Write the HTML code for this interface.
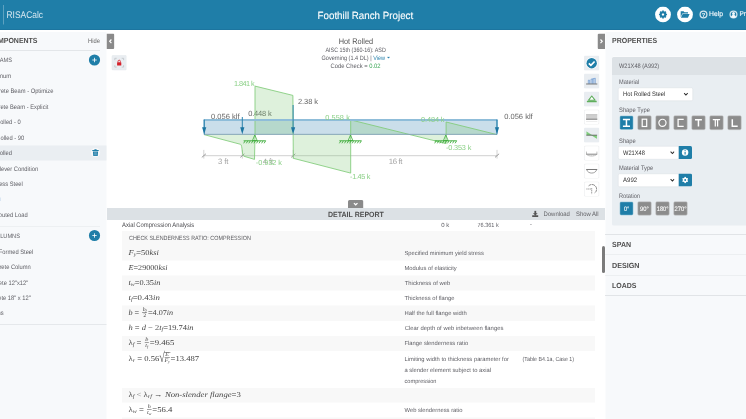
<!DOCTYPE html>
<html lang="en"><head><meta charset="utf-8"><title>RISACalc - Foothill Ranch Project</title>
<style>
html,body{margin:0;padding:0;background:#fff;overflow:hidden;width:746px;height:419px}
#app{text-rendering:geometricPrecision;position:absolute;left:0;top:0;width:1492px;height:838px;overflow:hidden;transform:scale(0.5);transform-origin:0 0;font-family:"Liberation Sans",sans-serif;background:#fff}
#app div,#app h1,#app h2,#app h3,#app span{box-sizing:border-box}
</style></head><body><div id="app">
<div class="sidebar-bg" style="position:absolute;left:0px;top:64px;width:212.6px;height:780px;background:#f7f9fb;"></div>
<div class="right-bg" style="position:absolute;left:1210.8px;top:64px;width:282px;height:780px;background:#f7f9fb;"></div>
<header style="position:absolute;left:0;top:0;width:1492px;height:59.8px;background:#1f7ea8;border-bottom:1.4px solid #1a6d96;box-sizing:border-box"><div style="position:absolute;left:6.4px;top:10px;width:1.2px;height:39px;background:rgba(255,255,255,.28);"></div><div style="position:absolute;top:18px;font-size:19.4px;line-height:22px;white-space:nowrap;color:#d6e7f0;left:13.2px;transform-origin:0 0;transform:scaleX(0.87);">RISACalc</div><h1 style="position:absolute;top:19px;font-size:20.8px;line-height:23px;white-space:nowrap;color:#fff;left:628.86px;transform-origin:50% 0;transform:scaleX(0.94);margin:0;font-weight:normal;-webkit-text-stroke:0.2px #fff;">Foothill Ranch Project</h1><svg style="position:absolute;left:1310px;top:13.2px;width:32px;height:32px" viewBox="0 0 16 16">
<circle cx="8" cy="8" r="7.9" fill="#fff"/>
<g transform="translate(8 8) scale(1.15)" fill="#1f7ea8">
<circle r="1.9" fill="none" stroke="#1f7ea8" stroke-width="1.7"/>
<g>
<rect x="-0.7" y="-3.5" width="1.4" height="1.4"/><rect x="-0.7" y="2.1" width="1.4" height="1.4"/>
<rect x="-3.5" y="-0.7" width="1.4" height="1.4"/><rect x="2.1" y="-0.7" width="1.4" height="1.4"/>
</g>
<g transform="rotate(45)">
<rect x="-0.7" y="-3.5" width="1.4" height="1.4"/><rect x="-0.7" y="2.1" width="1.4" height="1.4"/>
<rect x="-3.5" y="-0.7" width="1.4" height="1.4"/><rect x="2.1" y="-0.7" width="1.4" height="1.4"/>
</g>
</g></svg><svg style="position:absolute;left:1354.4px;top:13.2px;width:32px;height:32px" viewBox="0 0 16 16">
<circle cx="8" cy="8" r="7.9" fill="#fff"/>
<path d="M3.7 4.8h2.9l.9.9h3.5v1.200H5.300L3.700 10.700z" fill="#1f7ea8"/>
<path d="M5.700 7.500h6.900l-1.700 3.700H3.900z" fill="#1f7ea8"/>
</svg><svg style="position:absolute;left:1397.8px;top:20px;width:18px;height:18px" viewBox="0 0 9 9">
<circle cx="4.500" cy="4.500" r="3.400" fill="none" stroke="rgba(255,255,255,.8)" stroke-width="1.250"/>
<text x="4.500" y="6.500" font-size="5.800" font-weight="bold" text-anchor="middle" fill="#fff" font-family="Liberation Sans, sans-serif">?</text>
</svg><div style="position:absolute;top:20px;font-size:13.8px;line-height:15px;white-space:nowrap;color:#f2f8fb;left:1418.4px;transform-origin:0 0;transform:scaleX(0.979);-webkit-text-stroke:0.3px #f2f8fb;">Help</div><svg style="position:absolute;left:1458px;top:20px;width:18px;height:18px" viewBox="0 0 9 9">
<circle cx="4.500" cy="4.500" r="3.400" fill="none" stroke="rgba(255,255,255,.8)" stroke-width="1.250"/>
<circle cx="4.500" cy="3.500" r="1.500" fill="#f4f9fb"/>
<path d="M2 7.100c.2-1.700 1.200-2.200 2.500-2.200s2.300.5 2.500 2.200c-.7.700-1.500 1-2.500 1s-1.800-.3-2.500-1z" fill="#f4f9fb"/>
</svg><div style="position:absolute;top:20px;font-size:13.8px;line-height:15px;white-space:nowrap;color:#f2f8fb;left:1478.6px;transform-origin:0 0;transform:scaleX(0.93);-webkit-text-stroke:0.3px #f2f8fb;">Profile</div></header>
<nav><h2 style="position:absolute;top:73px;font-size:14.8px;line-height:16px;white-space:nowrap;color:#4f4f4f;right:1416.6px;transform-origin:100% 0;transform:scaleX(0.945);font-weight:bold;margin:0;">COMPONENTS</h2><div style="position:absolute;top:74px;font-size:13px;line-height:15px;white-space:nowrap;color:#666;left:175.6px;transform-origin:0 0;transform:scaleX(0.89);">Hide</div><div style="position:absolute;left:0px;top:100px;width:199.6px;height:1.6px;background:#e3e6e9;"></div><div style="position:absolute;top:113px;font-size:12.6px;line-height:14px;white-space:nowrap;color:#5e5e64;right:1468.4px;transform-origin:100% 0;transform:scaleX(0.9);">BEAMS</div><svg style="position:absolute;left:176.6px;top:107.8px;width:24px;height:24px" viewBox="0 0 12 12">
<circle cx="6" cy="6" r="5.6" fill="#1f7ea8"/>
<path d="M6 3.8v4.4M3.8 6h4.4" stroke="#fff" stroke-width="0.8" fill="none"/></svg><div style="position:absolute;left:0px;top:290.6px;width:212.6px;height:30.6px;background:#eaeef2;"></div><div style="position:absolute;top:144px;font-size:12.8px;line-height:15px;white-space:nowrap;color:#5e5e64;right:1470.4px;transform-origin:100% 0;transform:scaleX(0.9);">Aluminum</div><div style="position:absolute;top:174px;font-size:12.8px;line-height:15px;white-space:nowrap;color:#5e5e64;right:1385.2px;transform-origin:100% 0;transform:scaleX(0.9);">Concrete Beam - Optimize</div><div style="position:absolute;top:206px;font-size:12.8px;line-height:15px;white-space:nowrap;color:#5e5e64;right:1395.2px;transform-origin:100% 0;transform:scaleX(0.9);">Concrete Beam - Explicit</div><div style="position:absolute;top:236px;font-size:12.8px;line-height:15px;white-space:nowrap;color:#5e5e64;right:1450.8px;transform-origin:100% 0;transform:scaleX(0.9);">Hot Rolled - 0</div><div style="position:absolute;top:268px;font-size:12.8px;line-height:15px;white-space:nowrap;color:#5e5e64;right:1444px;transform-origin:100% 0;transform:scaleX(0.9);">Hot Rolled - 90</div><div style="position:absolute;top:298px;font-size:12.8px;line-height:15px;white-space:nowrap;color:#5e5e64;right:1468px;transform-origin:100% 0;transform:scaleX(0.9);">Hot Rolled</div><div style="position:absolute;top:330px;font-size:12.8px;line-height:15px;white-space:nowrap;color:#5e5e64;right:1416px;transform-origin:100% 0;transform:scaleX(0.9);">Cantilever Condition</div><div style="position:absolute;top:360px;font-size:12.8px;line-height:15px;white-space:nowrap;color:#5e5e64;right:1446.8px;transform-origin:100% 0;transform:scaleX(0.9);">Stainless Steel</div><div style="position:absolute;top:390px;font-size:12.8px;line-height:15px;white-space:nowrap;color:#5e5e64;right:1495px;transform-origin:100% 0;transform:scaleX(0.9);">Wood</div><div style="position:absolute;top:422px;font-size:12.8px;line-height:15px;white-space:nowrap;color:#5e5e64;right:1436.8px;transform-origin:100% 0;transform:scaleX(0.9);">Distributed Load</div><svg style="position:absolute;left:181.2px;top:294.8px;width:20px;height:20px" viewBox="0 0 10 10"><circle cx="5" cy="5" r="4.800" fill="rgba(255,255,255,.55)"/></svg><svg style="position:absolute;left:184.2px;top:297.6px;width:14px;height:14.8px" viewBox="0 0 7 7.4">
<path d="M0.300 1.100h6.400v0.900h-6.400zM2.400 0.200h2.200v0.900h-2.200zM0.900 2.400h5.200l-0.400 4.800h-4.400z" fill="#1f7ea8"/>
<path d="M2.400 3.200v3.200M3.500 3.200v3.200M4.600 3.200v3.200" stroke="#9cc3d8" stroke-width="0.45"/></svg><div style="position:absolute;left:0px;top:394.6px;width:1.6px;height:7.2px;background:#dbe7f3;"></div><div style="position:absolute;left:0px;top:451.8px;width:199.6px;height:1.6px;background:#e3e6e9;"></div><div style="position:absolute;top:465px;font-size:12.6px;line-height:14px;white-space:nowrap;color:#5e5e64;right:1452px;transform-origin:100% 0;transform:scaleX(0.9);">COLUMNS</div><svg style="position:absolute;left:176.6px;top:459.2px;width:24px;height:24px" viewBox="0 0 12 12">
<circle cx="6" cy="6" r="5.6" fill="#1f7ea8"/>
<path d="M6 3.8v4.4M3.8 6h4.4" stroke="#fff" stroke-width="0.8" fill="none"/></svg><div style="position:absolute;top:496px;font-size:12.8px;line-height:15px;white-space:nowrap;color:#5e5e64;right:1425.4px;transform-origin:100% 0;transform:scaleX(0.9);">Cold Formed Steel</div><div style="position:absolute;top:526px;font-size:12.8px;line-height:15px;white-space:nowrap;color:#5e5e64;right:1430.4px;transform-origin:100% 0;transform:scaleX(0.9);">Concrete Column</div><div style="position:absolute;top:558px;font-size:12.8px;line-height:15px;white-space:nowrap;color:#5e5e64;right:1436px;transform-origin:100% 0;transform:scaleX(0.9);">Concrete 12"x12"</div><div style="position:absolute;top:588px;font-size:12.8px;line-height:15px;white-space:nowrap;color:#5e5e64;right:1430.8px;transform-origin:100% 0;transform:scaleX(0.9);">Concrete 18" x 12"</div><div style="position:absolute;top:618px;font-size:12.8px;line-height:15px;white-space:nowrap;color:#5e5e64;right:1485.2px;transform-origin:100% 0;transform:scaleX(0.9);">Steel Columns</div><div style="position:absolute;left:0px;top:648.2px;width:212.6px;height:1.8px;background:#e5e8eb;"></div></nav>
<svg style="position:absolute;left:213.4px;top:66.6px;width:15.6px;height:31.2px" viewBox="0 0 7.6 15.6" preserveAspectRatio="none">
<path d="M0 0h6.100a1.500 1.500 0 0 1 1.500 1.500v12.600a1.500 1.500 0 0 1 -1.500 1.500h-6.100z" fill="#8a8a8a"/>
<path d="M4.800 6l-1.700 1.800 1.700 1.800" stroke="#fff" stroke-width="1.200" fill="none"/></svg>
<svg style="position:absolute;left:1194.6px;top:66.8px;width:15.4px;height:31.2px" viewBox="0 0 7.7 15.600">
<path d="M7.700 0h-6.200a1.500 1.500 0 0 0 -1.500 1.500v12.600a1.500 1.500 0 0 0 1.500 1.500h6.200z" fill="#8a8a8a"/>
<path d="M3 6l1.700 1.800-1.700 1.800" stroke="#fff" stroke-width="1.200" fill="none"/></svg>
<main><svg style="position:absolute;left:222.6px;top:110.4px;width:30.8px;height:30.8px" viewBox="0 0 15.4 15.4">
<rect x="0.2" y="0.2" width="15" height="15" rx="1.5" fill="#e9edf1" stroke="#e3e8ec" stroke-width="0.4"/>
<path d="M3.300 5.200v-1.900h1.900M10.200 3.300h1.900v1.900M12.100 10.200v1.900h-1.900M5.200 12.100h-1.900v-1.900" fill="none" stroke="#b9bec3" stroke-width="0.7"/>
<rect x="5.600" y="7.300" width="4.200" height="3.300" rx="0.4" fill="#d5202a"/>
<path d="M6.500 7.400v-1a1.200 1.200 0 0 1 2.400 0v1" fill="none" stroke="#d5202a" stroke-width="0.8"/></svg><h3 style="position:absolute;top:73px;font-size:16.2px;line-height:18px;white-space:nowrap;color:#555;left:673.78px;transform-origin:50% 0;transform:scaleX(0.91);margin:0;font-weight:normal;">Hot Rolled</h3><div style="position:absolute;top:93px;font-size:12.6px;line-height:14px;white-space:nowrap;color:#5e5e64;left:641.21px;transform-origin:50% 0;transform:scaleX(0.858);">AISC 15th (360-16): ASD</div><div style="position:absolute;top:109px;font-size:12.6px;line-height:14px;white-space:nowrap;color:#5e5e64;left:643.2px;transform-origin:0 0;transform:scaleX(0.88);">Governing (1.4 DL) | <span style="color:#2b83ad">View</span></div><svg style="position:absolute;left:773.8px;top:112.6px;width:6px;height:4.6px" viewBox="0 0 3 2.3"><path d="M0 0.2h3l-1.500 2z" fill="#2b83ad"/></svg><div style="position:absolute;top:125px;font-size:12.6px;line-height:14px;white-space:nowrap;color:#5e5e64;left:657.49px;transform-origin:50% 0;transform:scaleX(0.924);">Code Check = <span style="color:#3aa655">0.02</span></div><svg style="position:absolute;left:212px;top:60px;width:998px;height:356px;font-family:'Liberation Sans',sans-serif" viewBox="106 30 499 178"><rect x="204" y="119.6" width="293" height="14.900" fill="#cadeea"/><path d="M204 155.700H497" stroke="#d0d0d0" stroke-width="1" fill="none"/><path d="M203.8 149.89999999999998V158.6" stroke="#cfcfcf" stroke-width="0.9" fill="none"/><path d="M201.8 157.39999999999998L205.9 153.79999999999998" stroke="#858585" stroke-width="0.8" fill="none"/><path d="M242.3 149.89999999999998V158.6" stroke="#cfcfcf" stroke-width="0.9" fill="none"/><path d="M240.3 157.39999999999998L244.4 153.79999999999998" stroke="#858585" stroke-width="0.8" fill="none"/><path d="M293.2 149.89999999999998V158.6" stroke="#cfcfcf" stroke-width="0.9" fill="none"/><path d="M291.2 157.39999999999998L295.3 153.79999999999998" stroke="#858585" stroke-width="0.8" fill="none"/><path d="M497 149.89999999999998V158.6" stroke="#cfcfcf" stroke-width="0.9" fill="none"/><path d="M495 157.39999999999998L499.1 153.79999999999998" stroke="#858585" stroke-width="0.8" fill="none"/><text x="218" y="163.9" font-size="7.8" fill="#a4a4a4" text-anchor="start" textLength="10.3" lengthAdjust="spacing">3 ft</text><text x="262.8" y="163.9" font-size="7.8" fill="#a4a4a4" text-anchor="start" textLength="10.3" lengthAdjust="spacing">4 ft</text><text x="388.7" y="163.9" font-size="7.8" fill="#a4a4a4" text-anchor="start" textLength="13.8" lengthAdjust="spacing">16 ft</text><text x="248.2" y="116.4" font-size="7.5" fill="#666" text-anchor="start" textLength="23.5" lengthAdjust="spacing">0.448 k</text><path d="M204 134.600L240.500 144.300C242.500 145 241.800 155 243.800 156.200L254.500 159.400V134.600z" fill="rgba(126,200,118,.26)" stroke="none"/><path d="M255 134.600V86.100L292.900 95.400V134.600z" fill="rgba(126,200,118,.26)" stroke="none"/><path d="M293.300 134.600V158.300L350.700 173.100V134.600z" fill="rgba(126,200,118,.26)" stroke="none"/><path d="M350.700 134.600V119.900L446.100 143.600V134.600z" fill="rgba(126,200,118,.26)" stroke="none"/><path d="M446.100 134.600V122L497 134.600z" fill="rgba(126,200,118,.26)" stroke="none"/><path d="M204 134.600L240.500 144.300C242.500 145 241.800 155 243.800 156.200L254.500 159.400L255 134.600V86.100L292.900 95.400L293.300 158.300L350.700 173.100V119.900L446.100 143.600V122L497 134.600" fill="none" stroke="#7fcb79" stroke-width="0.85" stroke-linejoin="round"/><path d="M203.800 119.950H497.300" stroke="#8fbdd9" stroke-width="1.9" fill="none"/><path d="M204 134.350H497" stroke="#7f9fb3" stroke-width="0.9" fill="none"/><path d="M204.200 119.700V134.500M497 119.700V134.500" stroke="#3f8fba" stroke-width="0.9" fill="none"/><path d="M204.2 119.7V131.3" stroke="#2b83ad" stroke-width="1" fill="none"/><path d="M202.1 127.30000000000001h4.200L204.2 134.3z" fill="#1c75a1"/><path d="M242.3 117V131.3" stroke="#2b83ad" stroke-width="1" fill="none"/><path d="M240.20000000000002 127.30000000000001h4.200L242.3 134.3z" fill="#1c75a1"/><path d="M293.1 105V131.3" stroke="#2b83ad" stroke-width="1" fill="none"/><path d="M291.0 127.30000000000001h4.200L293.1 134.3z" fill="#1c75a1"/><path d="M497 119.7V131.3" stroke="#2b83ad" stroke-width="1" fill="none"/><path d="M494.9 127.30000000000001h4.200L497 134.3z" fill="#1c75a1"/><path d="M254.8 135.0l-2.400 5.600h4.800z" fill="none" stroke="#39aa36" stroke-width="0.75"/><path d="M243.60000000000002 140.8h22.200" stroke="#39aa36" stroke-width="0.9" fill="none"/><path d="M245.2 140.8l-1.500 2.500M247.8 140.8l-1.500 2.500M250.3 140.8l-1.500 2.500M252.9 140.8l-1.500 2.500M255.4 140.8l-1.500 2.500M258.0 140.8l-1.500 2.500M260.5 140.8l-1.500 2.500M263.1 140.8l-1.500 2.500M265.6 140.8l-1.500 2.500" stroke="#39aa36" stroke-width="0.85" fill="none"/><path d="M350.5 135.0l-2.400 5.600h4.800z" fill="none" stroke="#39aa36" stroke-width="0.75"/><path d="M339.3 140.8h22.200" stroke="#39aa36" stroke-width="0.9" fill="none"/><path d="M340.9 140.8l-1.500 2.500M343.4 140.8l-1.500 2.500M346.0 140.8l-1.500 2.500M348.6 140.8l-1.500 2.500M351.1 140.8l-1.500 2.500M353.7 140.8l-1.500 2.500M356.2 140.8l-1.500 2.500M358.8 140.8l-1.500 2.500M361.3 140.8l-1.500 2.500" stroke="#39aa36" stroke-width="0.85" fill="none"/><path d="M445.8 135.0l-2.400 5.600h4.800z" fill="none" stroke="#39aa36" stroke-width="0.75"/><path d="M434.6 140.8h22.200" stroke="#39aa36" stroke-width="0.9" fill="none"/><path d="M436.2 140.8l-1.500 2.500M438.8 140.8l-1.500 2.500M441.3 140.8l-1.500 2.500M443.9 140.8l-1.500 2.500M446.4 140.8l-1.500 2.500M449.0 140.8l-1.500 2.500M451.5 140.8l-1.500 2.500M454.1 140.8l-1.500 2.500M456.6 140.8l-1.500 2.500" stroke="#39aa36" stroke-width="0.85" fill="none"/><text x="211" y="118.7" font-size="7.5" fill="#666" text-anchor="start" textLength="28.5" lengthAdjust="spacing">0.056 klf</text><text x="298" y="104" font-size="7.5" fill="#666" text-anchor="start" textLength="20" lengthAdjust="spacing">2.38 k</text><text x="504.2" y="118.7" font-size="7.5" fill="#666" text-anchor="start" textLength="28.5" lengthAdjust="spacing">0.056 klf</text><text x="234" y="85.9" font-size="7.3" fill="#8bd087" text-anchor="start" textLength="20.6" lengthAdjust="spacing">1.841 k</text><text x="255.8" y="165" font-size="7.3" fill="#8bd087" text-anchor="start" textLength="26" lengthAdjust="spacing">-0.932 k</text><text x="325.3" y="120" font-size="7.3" fill="#8bd087" text-anchor="start" textLength="24.5" lengthAdjust="spacing">0.558 k</text><text x="350" y="178.9" font-size="7.3" fill="#8bd087" text-anchor="start" textLength="20.5" lengthAdjust="spacing">-1.45 k</text><text x="421" y="121.8" font-size="7.3" fill="#8bd087" text-anchor="start" textLength="23.5" lengthAdjust="spacing">0.484 k</text><text x="446" y="149.6" font-size="7.3" fill="#8bd087" text-anchor="start" textLength="25.3" lengthAdjust="spacing">-0.353 k</text></svg><svg style="position:absolute;left:696.4px;top:400px;width:30.8px;height:16px" viewBox="0 0 15.4 8">
<path d="M0 8v-6.500a1.500 1.500 0 0 1 1.500 -1.500h12.400a1.500 1.500 0 0 1 1.500 1.500v6.500z" fill="#8a8a8a"/>
<path d="M5.900 3.100l1.800 1.700 1.800-1.700" stroke="#fff" stroke-width="1.200" fill="none"/></svg><div style="position:absolute;left:213.8px;top:415.6px;width:996px;height:24.8px;background:#dce1e5;"></div><h2 style="position:absolute;top:420px;font-size:15.2px;line-height:17px;white-space:nowrap;color:#4f4f4f;left:656px;transform-origin:0 0;transform:scaleX(0.924);font-weight:bold;margin:0;">DETAIL REPORT</h2><svg style="position:absolute;left:1063.6px;top:421.2px;width:13.2px;height:13.2px" viewBox="0 0 6.6 6.6">
<path d="M2.400 0.200h1.800v2.500h1.500l-2.400 2.300-2.400-2.300h1.500zM0.200 4.800h6.200v1.600h-6.200z" fill="#555"/></svg><div style="position:absolute;top:420px;font-size:12.8px;line-height:15px;white-space:nowrap;color:#626266;left:1086.8px;transform-origin:0 0;transform:scaleX(0.928);">Download</div><div style="position:absolute;top:420px;font-size:12.8px;line-height:15px;white-space:nowrap;color:#626266;left:1151.6px;transform-origin:0 0;transform:scaleX(0.921);">Show All</div><div style="position:absolute;top:442px;font-size:13.4px;line-height:15px;white-space:nowrap;color:#4a4a4e;left:244.4px;transform-origin:0 0;transform:scaleX(0.877);">Axial Compression Analysis</div><div style="position:absolute;top:443px;font-size:12px;line-height:14px;white-space:nowrap;color:#5e5e64;left:882.6px;transform-origin:0 0;">0 k</div><div style="position:absolute;top:443px;font-size:12px;line-height:14px;white-space:nowrap;color:#5e5e64;left:955.2px;transform-origin:0 0;transform:scaleX(0.921);">76.361 k</div><div style="position:absolute;top:441px;font-size:12.4px;line-height:14px;white-space:nowrap;color:#5e5e64;left:1060.4px;transform-origin:0 0;transform:scaleX(0.9);">-</div><div style="position:absolute;left:244px;top:462px;width:946px;height:59.2px;background:#f8f8f8;"></div><div style="position:absolute;left:244px;top:550.8px;width:946px;height:30px;background:#f8f8f8;"></div><div style="position:absolute;left:244px;top:611.2px;width:946px;height:30.4px;background:#f8f8f8;"></div><div style="position:absolute;left:244px;top:672px;width:946px;height:29.6px;background:#f8f8f8;"></div><div style="position:absolute;left:244px;top:776px;width:946px;height:29.2px;background:#f8f8f8;"></div><div style="position:absolute;left:244px;top:835px;width:946px;height:5px;background:#f8f8f8;"></div><div style="position:absolute;top:469px;font-size:12.2px;line-height:14px;white-space:nowrap;color:#5a5a5e;left:257.6px;transform-origin:0 0;transform:scaleX(0.887);">CHECK SLENDERNESS RATIO: COMPRESSION</div><div class="m" style="position:absolute;left:257.4px;top:497px;font-size:15px;line-height:16px;white-space:nowrap;color:#444;transform-origin:0 0;transform:scaleX(1.126);font-family:'Liberation Serif',serif"><i>F</i><sub style="font-size:70%;vertical-align:baseline;position:relative;top:0.22em;font-style:italic;">y</sub>=50<i>ksi</i></div><div style="position:absolute;top:499px;font-size:11.8px;line-height:14px;white-space:nowrap;color:#5e5e64;left:809.4px;transform-origin:0 0;transform:scaleX(0.979);">Specified minimum yield stress</div><div class="m" style="position:absolute;left:257.4px;top:527px;font-size:15px;line-height:16px;white-space:nowrap;color:#444;transform-origin:0 0;transform:scaleX(1.086);font-family:'Liberation Serif',serif"><i>E</i>=29000<i>ksi</i></div><div style="position:absolute;top:529px;font-size:11.8px;line-height:14px;white-space:nowrap;color:#5e5e64;left:809.4px;transform-origin:0 0;transform:scaleX(0.984);">Modulus of elasticity</div><div class="m" style="position:absolute;left:257.4px;top:557px;font-size:15px;line-height:16px;white-space:nowrap;color:#444;transform-origin:0 0;transform:scaleX(1.112);font-family:'Liberation Serif',serif"><i>t</i><sub style="font-size:70%;vertical-align:baseline;position:relative;top:0.22em;font-style:italic;">w</sub>=0.35<i>in</i></div><div style="position:absolute;top:559px;font-size:11.8px;line-height:14px;white-space:nowrap;color:#5e5e64;left:809.4px;transform-origin:0 0;">Thickness of web</div><div class="m" style="position:absolute;left:257.4px;top:587px;font-size:15px;line-height:16px;white-space:nowrap;color:#444;transform-origin:0 0;transform:scaleX(1.17);font-family:'Liberation Serif',serif"><i>t</i><sub style="font-size:70%;vertical-align:baseline;position:relative;top:0.22em;font-style:italic;">f</sub>=0.43<i>in</i></div><div style="position:absolute;top:589px;font-size:11.8px;line-height:14px;white-space:nowrap;color:#5e5e64;left:809.4px;transform-origin:0 0;transform:scaleX(0.984);">Thickness of flange</div><div class="m" style="position:absolute;left:257.4px;top:617px;font-size:15px;line-height:16px;white-space:nowrap;color:#444;transform-origin:0 0;transform:scaleX(1.085);font-family:'Liberation Serif',serif"><i>b</i> = <span style="display:inline-block;vertical-align:middle;text-align:center;font-size:70%;line-height:1.05;margin:-1em 0.15em;position:relative;top:-0.1em"><span style="display:block;border-bottom:0.6px solid #444;padding:0 0.1em"><i>b</i><sub style="font-size:70%;vertical-align:baseline;position:relative;top:0.22em;font-style:italic;">f</sub></span><span style="display:block">2</span></span>=4.07<i>in</i></div><div style="position:absolute;top:619px;font-size:11.8px;line-height:14px;white-space:nowrap;color:#5e5e64;left:809.4px;transform-origin:0 0;transform:scaleX(0.993);">Half the full flange width</div><div class="m" style="position:absolute;left:257.4px;top:647px;font-size:15px;line-height:16px;white-space:nowrap;color:#444;transform-origin:0 0;transform:scaleX(1.126);font-family:'Liberation Serif',serif"><i>h</i> = <i>d</i> − 2<i>t</i><sub style="font-size:70%;vertical-align:baseline;position:relative;top:0.22em;font-style:italic;">f</sub>=19.74<i>in</i></div><div style="position:absolute;top:649px;font-size:11.8px;line-height:14px;white-space:nowrap;color:#5e5e64;left:809.4px;transform-origin:0 0;">Clear depth of web inbetween flanges</div><div class="m" style="position:absolute;left:257.4px;top:677px;font-size:15px;line-height:16px;white-space:nowrap;color:#444;transform-origin:0 0;transform:scaleX(1.162);font-family:'Liberation Serif',serif">λ<sub style="font-size:70%;vertical-align:baseline;position:relative;top:0.22em;font-style:italic;">f</sub> = <span style="display:inline-block;vertical-align:middle;text-align:center;font-size:70%;line-height:1.05;margin:-1em 0.15em;position:relative;top:-0.1em"><span style="display:block;border-bottom:0.6px solid #444;padding:0 0.1em"><i>b</i></span><span style="display:block"><i>t</i><sub style="font-size:70%;vertical-align:baseline;position:relative;top:0.22em;font-style:italic;">f</sub></span></span>=9.465</div><div style="position:absolute;top:679px;font-size:11.8px;line-height:14px;white-space:nowrap;color:#5e5e64;left:809.4px;transform-origin:0 0;transform:scaleX(0.986);">Flange slenderness ratio</div><div class="m" style="position:absolute;left:257.4px;top:709px;font-size:15px;line-height:16px;white-space:nowrap;color:#444;transform-origin:0 0;transform:scaleX(1.148);font-family:'Liberation Serif',serif">λ<sub style="font-size:70%;vertical-align:baseline;position:relative;top:0.22em;font-style:italic;">r</sub> = 0.56<span style="display:inline-block;transform:scale(1.15,1.9);transform-origin:50% 60%;margin-right:-0.02em">√</span><span style="display:inline-block;vertical-align:middle;margin:-1em 0;border-top:0.6px solid #444;padding-top:0.02em;position:relative;top:-0.12em"><span style="display:inline-block;vertical-align:middle;text-align:center;font-size:70%;line-height:1.05;margin:0 0.1em;position:relative;top:-0.1em"><span style="display:block;border-bottom:0.6px solid #444;padding:0 0.1em"><i>E</i></span><span style="display:block"><i>F</i><sub style="font-size:70%;vertical-align:baseline;position:relative;top:0.22em;font-style:italic;">y</sub></span></span></span>=13.487</div><div class="m" style="position:absolute;left:257.4px;top:781px;font-size:15px;line-height:16px;white-space:nowrap;color:#444;transform-origin:0 0;transform:scaleX(1.156);font-family:'Liberation Serif',serif">λ<sub style="font-size:70%;vertical-align:baseline;position:relative;top:0.22em;font-style:italic;">f</sub> &lt; λ<sub style="font-size:70%;vertical-align:baseline;position:relative;top:0.22em;font-style:italic;">rf</sub> → <i>Non-slender flange</i>=3</div><div class="m" style="position:absolute;left:257.4px;top:811px;font-size:15px;line-height:16px;white-space:nowrap;color:#444;transform-origin:0 0;transform:scaleX(1.156);font-family:'Liberation Serif',serif">λ<sub style="font-size:70%;vertical-align:baseline;position:relative;top:0.22em;font-style:italic;">w</sub> = <span style="display:inline-block;vertical-align:middle;text-align:center;font-size:70%;line-height:1.05;margin:-1em 0.15em;position:relative;top:-0.1em"><span style="display:block;border-bottom:0.6px solid #444;padding:0 0.1em"><i>h</i></span><span style="display:block"><i>t</i><sub style="font-size:70%;vertical-align:baseline;position:relative;top:0.22em;font-style:italic;">w</sub></span></span>=56.4</div><div style="position:absolute;top:813px;font-size:11.8px;line-height:14px;white-space:nowrap;color:#5e5e64;left:809.4px;transform-origin:0 0;transform:scaleX(0.99);">Web slenderness ratio</div><div style="position:absolute;top:711px;font-size:11.8px;line-height:14px;white-space:nowrap;color:#5e5e64;left:809.4px;transform-origin:0 0;transform:scaleX(0.989);">Limiting width to thickness parameter for</div><div style="position:absolute;top:733px;font-size:11.8px;line-height:14px;white-space:nowrap;color:#5e5e64;left:809.4px;transform-origin:0 0;transform:scaleX(0.988);">a slender element subject to axial</div><div style="position:absolute;top:755px;font-size:11.8px;line-height:14px;white-space:nowrap;color:#5e5e64;left:809.4px;transform-origin:0 0;transform:scaleX(0.957);">compression</div><div style="position:absolute;top:711px;font-size:11.8px;line-height:14px;white-space:nowrap;color:#5e5e64;left:1044.8px;transform-origin:0 0;transform:scaleX(0.904);">(Table B4.1a, Case 1)</div><div style="position:absolute;left:1204.2px;top:491.6px;width:6px;height:54px;background:#7b7b7b;border-radius:3px;"></div></main>
<aside><svg style="position:absolute;left:1168px;top:110.6px;width:30.6px;height:30.6px" viewBox="0 0 15.300 15.300"><rect width="15.300" height="15.300" rx="1.500" fill="#e9edf1"/><circle cx="7.700" cy="7.700" r="5.900" fill="#fff"/><circle cx="7.700" cy="7.700" r="5.200" fill="#1f7ea8"/><path d="M4.800 7.800l2.100 2.100 3.700-3.900" stroke="#fff" stroke-width="1.700" fill="none"/></svg><svg style="position:absolute;left:1168px;top:146.6px;width:30.6px;height:30.6px" viewBox="0 0 15.300 15.300"><rect width="15.300" height="15.300" rx="1.500" fill="#e9edf1"/><path d="M4.300 10.300V6.700h1.300v3.600M7 10.300V5.700l4.300-1v5.600M8.400 5.500v4.800M9.800 5.200v5.100" stroke="#4f86cc" stroke-width="0.550" fill="rgba(107,155,214,.13)"/><path d="M2.100 10.500H13.300" stroke="#5a5a5a" stroke-width="0.800" fill="none"/></svg><svg style="position:absolute;left:1168px;top:182.6px;width:30.6px;height:30.6px" viewBox="0 0 15.300 15.300"><rect width="15.300" height="15.300" rx="1.500" fill="#e9edf1"/><path d="M7.800 4.500L4.600 8.700h6.400z" fill="#fff" stroke="#5fae5c" stroke-width="1.100" stroke-linejoin="round"/><path d="M2.900 10h9.800" stroke="#5fae5c" stroke-width="1.500"/></svg><svg style="position:absolute;left:1168px;top:218.6px;width:30.6px;height:30.6px" viewBox="0 0 15.300 15.300"><rect x="0.300" y="0.300" width="14.700" height="14.700" rx="1.500" fill="#fff" stroke="#e6e8ea" stroke-width="0.6"/><rect x="2.100" y="4.900" width="11.200" height="5.300" fill="#cfcfcf"/><path d="M2.100 5.100h11.200" stroke="#a9a9a9" stroke-width="0.500"/><path d="M2.100 9.700h11.200" stroke="#777" stroke-width="0.900"/><path d="M2.100 12h11.200" stroke="#ddd" stroke-width="0.500"/></svg><svg style="position:absolute;left:1168px;top:254.6px;width:30.6px;height:30.6px" viewBox="0 0 15.300 15.300"><rect width="15.300" height="15.300" rx="1.500" fill="#e9edf1"/><path d="M2.500 4.300v3.400h5.200zM12.900 11v-3.300h-5.200z" fill="#7fd07a"/><path d="M2.500 4.300L12.900 11" stroke="#6cc367" stroke-width="0.500"/><path d="M2.300 7.700h10.800" stroke="#555" stroke-width="0.800"/></svg><svg style="position:absolute;left:1168px;top:290.6px;width:30.6px;height:30.6px" viewBox="0 0 15.300 15.300"><rect x="0.300" y="0.300" width="14.700" height="14.700" rx="1.500" fill="#fff" stroke="#e6e8ea" stroke-width="0.6"/><path d="M2.200 8.700h11" stroke="#666" stroke-width="0.800"/><path d="M2.500 8.800c2 2.400 8.400 2.400 10.400 0" stroke="#999" stroke-width="0.500" fill="none"/><path d="M2.500 6.100v2.600M12.900 6.100v2.600" stroke="#999" stroke-width="0.600"/><path d="M4.400 8.800v1.100M6 8.800v1.600M7.700 8.800v1.800M9.400 8.800v1.600M11 8.800v1.100" stroke="#aaa" stroke-width="0.500"/></svg><svg style="position:absolute;left:1168px;top:326.6px;width:30.6px;height:30.6px" viewBox="0 0 15.300 15.300"><rect x="0.300" y="0.300" width="14.700" height="14.700" rx="1.500" fill="#fff" stroke="#e6e8ea" stroke-width="0.6"/><path d="M2.200 6h11" stroke="#555" stroke-width="0.800"/><path d="M2.700 6.200c1.400 4.500 8.600 4.500 10 0" stroke="#777" stroke-width="0.700" fill="none"/></svg><svg style="position:absolute;left:1168px;top:362.6px;width:30.6px;height:30.6px" viewBox="0 0 15.300 15.300"><rect x="0.300" y="0.300" width="14.700" height="14.700" rx="1.500" fill="#fff" stroke="#e6e8ea" stroke-width="0.6"/><path d="M4.58 4.38A4.7 4.7 0 1 1 10.60 11.55" stroke="#666" stroke-width="0.750" fill="none" stroke-dasharray="3.2 0.5"/><path d="M2.300 7.500h5.300M7.700 6.600v6" stroke="#777" stroke-width="0.700" stroke-dasharray="1.300 0.500"/></svg><h2 style="position:absolute;top:73px;font-size:14.8px;line-height:16px;white-space:nowrap;color:#4f4f4f;left:1223.6px;transform-origin:0 0;transform:scaleX(0.945);font-weight:bold;margin:0;">PROPERTIES</h2><div style="position:absolute;left:1223.8px;top:112.8px;width:269px;height:3px;background:#fdfefe;border-radius:3px 0 0 0;"></div><div style="position:absolute;left:1223.8px;top:114.2px;width:269px;height:35.4px;background:#dde2e6;border-radius:3px 0 0 0;"></div><div style="position:absolute;left:1223.8px;top:149.6px;width:269px;height:301.8px;background:#e9eef2;border-radius:0 0 0 3px;"></div><div style="position:absolute;top:124px;font-size:12.8px;line-height:15px;white-space:nowrap;color:#5e5e64;left:1237.6px;transform-origin:0 0;transform:scaleX(0.883);">W21X48 (A992)</div><label style="position:absolute;top:156px;font-size:12.8px;line-height:15px;white-space:nowrap;color:#5e5e64;left:1238px;transform-origin:0 0;transform:scaleX(0.879);">Material</label><div style="position:absolute;left:1236.4px;top:174.8px;width:149.2px;height:26.8px;background:#fff;border:0.9px solid #d9dee3;border-radius:3.2px;"></div><div style="position:absolute;top:180px;font-size:12.8px;line-height:15px;white-space:nowrap;color:#333;left:1245.6px;transform-origin:0 0;transform:scaleX(0.917);">Hot Rolled Steel</div><svg style="position:absolute;left:1367px;top:185px;width:9.6px;height:6.8px" viewBox="0 0 4.800 3.400"><path d="M0.600 0.700l1.800 1.800 1.800-1.800" stroke="#2f2f2f" stroke-width="1.050" fill="none"/></svg><label style="position:absolute;top:212px;font-size:12.8px;line-height:15px;white-space:nowrap;color:#5e5e64;left:1238px;transform-origin:0 0;transform:scaleX(0.908);">Shape Type</label><div style="position:absolute;left:1238.6px;top:231.4px;width:28.2px;height:28.2px;background:#1f7ea8;border-radius:2.8px;border:1.6px solid #f4f8fa;"></div><svg style="position:absolute;left:1238.8px;top:231.8px;width:27.8px;height:27.4px" viewBox="0 0 13.900 13.700"><path d="M3.400 3.500h7.100M3.400 10.200h7.100M6.950 3.500v6.700" stroke="#fff" fill="none" stroke-width="1.500"/></svg><div style="position:absolute;left:1274.7px;top:231.4px;width:28.2px;height:28.2px;background:#8c8c8c;border-radius:2.8px;border:1.6px solid #c9cbcd;"></div><svg style="position:absolute;left:1274.9px;top:231.8px;width:27.8px;height:27.4px" viewBox="0 0 13.900 13.700"><rect x="4.700" y="3.200" width="4.500" height="7.300" stroke="#fff" fill="none" stroke-width="1.200"/></svg><div style="position:absolute;left:1310.8px;top:231.4px;width:28.2px;height:28.2px;background:#8c8c8c;border-radius:2.8px;border:1.6px solid #c9cbcd;"></div><svg style="position:absolute;left:1311px;top:231.8px;width:27.8px;height:27.4px" viewBox="0 0 13.900 13.700"><circle cx="6.950" cy="6.850" r="3.600" stroke="#fff" fill="none" stroke-width="1.200"/></svg><div style="position:absolute;left:1346.9px;top:231.4px;width:28.2px;height:28.2px;background:#8c8c8c;border-radius:2.8px;border:1.6px solid #c9cbcd;"></div><svg style="position:absolute;left:1347.1px;top:231.8px;width:27.8px;height:27.4px" viewBox="0 0 13.900 13.700"><path d="M10.200 3.400H4.600v6.900h5.600" stroke="#fff" fill="none" stroke-width="1.300"/></svg><div style="position:absolute;left:1383px;top:231.4px;width:28.2px;height:28.2px;background:#8c8c8c;border-radius:2.8px;border:1.6px solid #c9cbcd;"></div><svg style="position:absolute;left:1383.2px;top:231.8px;width:27.8px;height:27.4px" viewBox="0 0 13.900 13.700"><path d="M3.500 3.700h6.900M6.950 3.700v6.900" stroke="#fff" fill="none" stroke-width="1.500"/></svg><div style="position:absolute;left:1419.1px;top:231.4px;width:28.2px;height:28.2px;background:#8c8c8c;border-radius:2.8px;border:1.6px solid #c9cbcd;"></div><svg style="position:absolute;left:1419.3px;top:231.8px;width:27.8px;height:27.4px" viewBox="0 0 13.900 13.700"><path d="M3.300 3.700h7.300M5.800 3.700v6.900M8.100 3.700v6.900" stroke="#fff" fill="none" stroke-width="1.200"/></svg><div style="position:absolute;left:1455.2px;top:231.4px;width:28.2px;height:28.2px;background:#8c8c8c;border-radius:2.8px;border:1.6px solid #c9cbcd;"></div><svg style="position:absolute;left:1455.4px;top:231.8px;width:27.8px;height:27.4px" viewBox="0 0 13.900 13.700"><path d="M4.800 3.200v7h5.400" stroke="#fff" fill="none" stroke-width="1.500"/></svg><label style="position:absolute;top:274px;font-size:12.8px;line-height:15px;white-space:nowrap;color:#5e5e64;left:1238px;transform-origin:0 0;transform:scaleX(0.908);">Shape</label><div style="position:absolute;left:1236.4px;top:291.8px;width:121.8px;height:26.8px;background:#fff;border:0.9px solid #d9dee3;border-radius:3.2px;"></div><div style="position:absolute;top:298px;font-size:12.8px;line-height:15px;white-space:nowrap;color:#333;left:1245.6px;transform-origin:0 0;transform:scaleX(0.892);">W21X48</div><svg style="position:absolute;left:1339.6px;top:302px;width:9.6px;height:6.8px" viewBox="0 0 4.800 3.400"><path d="M0.600 0.700l1.800 1.800 1.800-1.800" stroke="#2f2f2f" stroke-width="1.050" fill="none"/></svg><svg style="position:absolute;left:1357.4px;top:292.2px;width:27px;height:26px" viewBox="0 0 13.500 13"><path d="M0 0h12a1.500 1.500 0 0 1 1.500 1.500v10a1.500 1.500 0 0 1 -1.500 1.500h-12z" fill="#1f7ea8"/><circle cx="6.600" cy="6.500" r="3.200" fill="#fff"/><path d="M6.600 5.900v2.500" stroke="#1f7ea8" stroke-width="1.100"/><circle cx="6.600" cy="4.700" r="0.600" fill="#1f7ea8"/></svg><label style="position:absolute;top:328px;font-size:12.8px;line-height:15px;white-space:nowrap;color:#5e5e64;left:1238px;transform-origin:0 0;transform:scaleX(0.896);">Material Type</label><div style="position:absolute;left:1236.4px;top:346.8px;width:121.8px;height:26.8px;background:#fff;border:0.9px solid #d9dee3;border-radius:3.2px;"></div><div style="position:absolute;top:352px;font-size:12.8px;line-height:15px;white-space:nowrap;color:#333;left:1245.6px;transform-origin:0 0;transform:scaleX(0.943);">A992</div><svg style="position:absolute;left:1339.6px;top:357px;width:9.6px;height:6.8px" viewBox="0 0 4.800 3.400"><path d="M0.600 0.700l1.800 1.800 1.800-1.800" stroke="#2f2f2f" stroke-width="1.050" fill="none"/></svg><svg style="position:absolute;left:1357.4px;top:347.2px;width:27px;height:26px" viewBox="0 0 13.500 13"><path d="M0 0h12a1.500 1.500 0 0 1 1.500 1.500v10a1.500 1.500 0 0 1 -1.500 1.500h-12z" fill="#1f7ea8"/><g transform="translate(6.700 6.500)"><circle r="1.700" fill="none" stroke="#fff" stroke-width="1.500"/><rect x="-0.650" y="-3.100" width="1.300" height="1.200" fill="#fff" transform="rotate(0)"/><rect x="-0.650" y="-3.100" width="1.300" height="1.200" fill="#fff" transform="rotate(60)"/><rect x="-0.650" y="-3.100" width="1.300" height="1.200" fill="#fff" transform="rotate(120)"/><rect x="-0.650" y="-3.100" width="1.300" height="1.200" fill="#fff" transform="rotate(180)"/><rect x="-0.650" y="-3.100" width="1.300" height="1.200" fill="#fff" transform="rotate(240)"/><rect x="-0.650" y="-3.100" width="1.300" height="1.200" fill="#fff" transform="rotate(300)"/></g></svg><label style="position:absolute;top:384px;font-size:12.8px;line-height:15px;white-space:nowrap;color:#5e5e64;left:1238px;transform-origin:0 0;transform:scaleX(0.881);">Rotation</label><div style="position:absolute;left:1238.6px;top:402.8px;width:28.2px;height:28.2px;background:#1f7ea8;border-radius:2.8px;border:1.6px solid #f4f8fa;"></div><div style="position:absolute;top:410px;font-size:12.8px;line-height:15px;white-space:nowrap;color:#fff;left:1246.68px;transform-origin:50% 0;transform:scaleX(0.866);-webkit-text-stroke:0.2px #fff;">0°</div><div style="position:absolute;left:1274.7px;top:402.8px;width:28.2px;height:28.2px;background:#8c8c8c;border-radius:2.8px;border:1.6px solid #c9cbcd;"></div><div style="position:absolute;top:410px;font-size:12.8px;line-height:15px;white-space:nowrap;color:#fff;left:1279.22px;transform-origin:50% 0;transform:scaleX(0.909);-webkit-text-stroke:0.2px #fff;">90°</div><div style="position:absolute;left:1310.8px;top:402.8px;width:28.2px;height:28.2px;background:#8c8c8c;border-radius:2.8px;border:1.6px solid #c9cbcd;"></div><div style="position:absolute;top:410px;font-size:12.8px;line-height:15px;white-space:nowrap;color:#fff;left:1311.76px;transform-origin:50% 0;transform:scaleX(0.876);-webkit-text-stroke:0.2px #fff;">180°</div><div style="position:absolute;left:1346.9px;top:402.8px;width:28.2px;height:28.2px;background:#8c8c8c;border-radius:2.8px;border:1.6px solid #c9cbcd;"></div><div style="position:absolute;top:410px;font-size:12.8px;line-height:15px;white-space:nowrap;color:#fff;left:1347.86px;transform-origin:50% 0;transform:scaleX(0.922);-webkit-text-stroke:0.2px #fff;">270°</div><div style="position:absolute;left:1210.4px;top:468px;width:282px;height:1.6px;background:#e1e4e7;"></div><div style="position:absolute;left:1210.4px;top:508.8px;width:282px;height:1.6px;background:#e1e4e7;"></div><div style="position:absolute;left:1210.4px;top:549.6px;width:282px;height:1.6px;background:#e1e4e7;"></div><div style="position:absolute;left:1210.4px;top:590.4px;width:282px;height:1.6px;background:#e1e4e7;"></div><h3 style="position:absolute;top:481px;font-size:14.8px;line-height:16px;white-space:nowrap;color:#4f4f4f;left:1224.2px;transform-origin:0 0;transform:scaleX(0.954);font-weight:bold;margin:0;">SPAN</h3><h3 style="position:absolute;top:523px;font-size:14.8px;line-height:16px;white-space:nowrap;color:#4f4f4f;left:1224.2px;transform-origin:0 0;transform:scaleX(0.966);font-weight:bold;margin:0;">DESIGN</h3><h3 style="position:absolute;top:563px;font-size:14.8px;line-height:16px;white-space:nowrap;color:#4f4f4f;left:1224.2px;transform-origin:0 0;transform:scaleX(0.946);font-weight:bold;margin:0;">LOADS</h3></aside>
</div></body></html>
